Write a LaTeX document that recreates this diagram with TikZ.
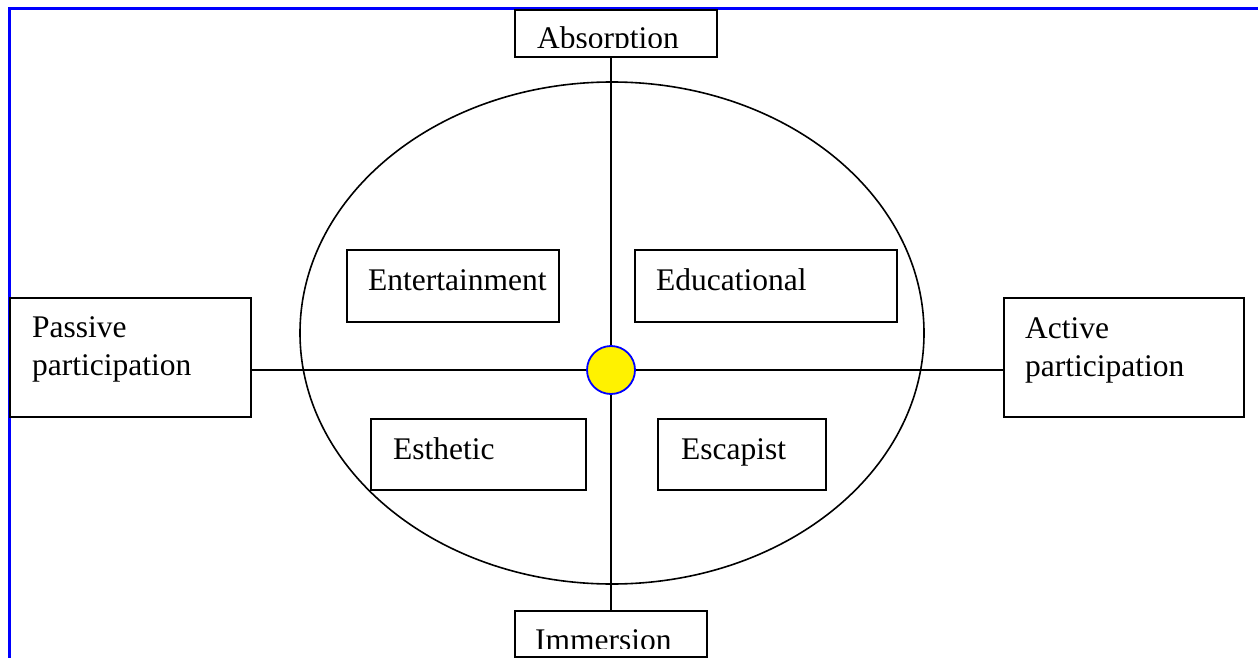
\documentclass[tikz,border=0pt]{standalone}
\usepackage{fontspec}
\setmainfont{Liberation Serif}
\usetikzlibrary{shapes.geometric}
\begin{document}
\begin{tikzpicture}[x=1pt,y=-1pt,
  box/.style={draw=black, line width=1.5pt, rectangle, inner sep=0pt, fill=white},
  lbl/.style={inner sep=0pt, font=\fontsize{31.5}{38}\selectfont, align=left},
  wire/.style={draw=black, line width=1.5pt},
  frameline/.style={draw=blue, line width=3pt}]
\useasboundingbox (0,0) rectangle (1258,658);
% frame (top and left only)
\draw[frameline] (9,658) -- (9,8.5) -- (1258,8.5);
% ellipse
\node[ellipse, draw=black, line width=1.6pt, minimum width=624pt, minimum height=502pt, inner sep=0pt] (ell) at (612,333) {};
% hub
\coordinate (c) at (611,370);
% outer boxes
\node[box, minimum width=202pt, minimum height=47pt] (abs) at (616,33.5) {};
\node[box, minimum width=192pt, minimum height=46pt] (imm) at (611,634) {};
\node[box, minimum width=241pt, minimum height=119pt] (pas) at (130.5,357.5) {};
\node[box, minimum width=240pt, minimum height=119pt] (act) at (1124,357.5) {};
% inner boxes
\node[box, minimum width=212pt, minimum height=72pt] (ent) at (453,286) {};
\node[box, minimum width=262pt, minimum height=72pt] (edu) at (766,286) {};
\node[box, minimum width=215pt, minimum height=71pt] (est) at (478.5,454.5) {};
\node[box, minimum width=168pt, minimum height=71pt] (esc) at (742,454.5) {};
% axes
\draw[wire] (c |- abs.south) -- (c |- imm.north);
\draw[wire] (c -| pas.east) -- (c -| act.west);
\node[circle, draw=blue, line width=1.8pt, fill=yellow, minimum size=48pt, inner sep=0pt] (hub) at (c) {};
% labels
\begin{scope}
\clip (515,10) rectangle (717,47.5);
\node[lbl, anchor=base west] (absT) at (537,49) {Absorption};
\end{scope}
\begin{scope}
\clip (515,611) rectangle (707,648);
\node[lbl, anchor=base west] (immT) at (535,650) {Immersion};
\end{scope}
\node[lbl, anchor=north west] (pasT) at (32,316) {Passive\\participation};
\node[lbl, anchor=north west] (actT) at (1025,317) {Active\\participation};
\node[lbl, anchor=base west] (entT) at (368,290) {Entertainment};
\node[lbl, anchor=base west] (eduT) at (656,290) {Educational};
\node[lbl, anchor=base west] (estT) at (393,459) {Esthetic};
\node[lbl, anchor=base west] (escT) at (681,459) {Escapist};
\end{tikzpicture}
\end{document}
